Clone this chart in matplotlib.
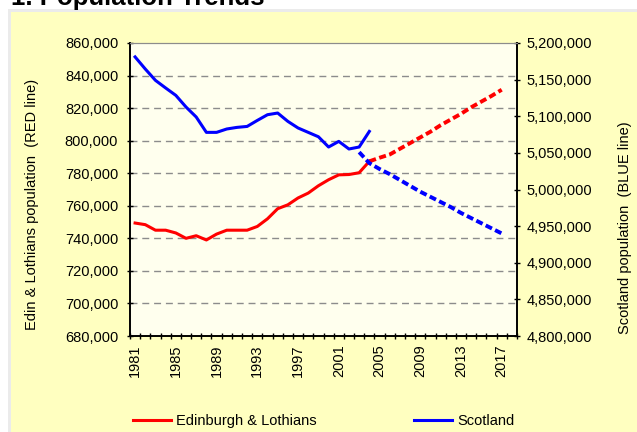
import numpy as np
import matplotlib
matplotlib.use("Agg")
import matplotlib.pyplot as plt
from matplotlib.patches import Rectangle
from matplotlib.ticker import FuncFormatter, FixedLocator

plt.rcParams['font.family'] = ['Liberation Sans', 'DejaVu Sans']

# category axis runs 1981..2018
years = list(range(1981, 2019))

# Edinburgh & Lothians, recorded (solid) and projected (dotted)
edin_years = list(range(1981, 2005))
edin_pop = [749400, 748400, 745000, 745000, 743300, 740000, 741600, 739000,
            742600, 745000, 745000, 745000, 747300, 752000, 758200, 760600,
            764800, 767800, 772300, 776000, 779000, 779200, 780300, 787300]
edin_proj_years = list(range(2004, 2018))
edin_proj = [787300, 789500, 791500, 795000, 798500, 802000, 805500, 809500,
             813000, 816500, 820500, 824000, 827500, 831300]

# Scotland, recorded (solid) and projected (dotted)
scot_years = list(range(1981, 2005))
scot_pop = [5181000, 5164500, 5149000, 5138600, 5128500, 5112600, 5099000,
            5078000, 5078000, 5082600, 5084800, 5086100, 5094300, 5102100,
            5104400, 5093000, 5084000, 5078000, 5072000, 5058000, 5065700,
            5055300, 5058000, 5079300]
scot_proj_years = list(range(2003, 2018))
scot_proj = [5051000, 5036000, 5028000, 5021000, 5013000, 5005000, 4997000,
             4990000, 4983000, 4976000, 4968000, 4961000, 4954000, 4947000,
             4940000]

left_ticks = list(range(680000, 860001, 20000))
right_ticks = list(range(4800000, 5200001, 50000))
label_years = list(range(1981, 2018, 4))

RED = '#FF0000'
BLUE = '#0000FF'


def idx(ys):
    return [y - years[0] for y in ys]


fig = plt.figure(figsize=(6.37, 4.32), dpi=100)
fig.patch.set_facecolor('white')
W, H = 637, 432
fig.patches.append(Rectangle((8 / W, 0), 1, (H - 9) / H, transform=fig.transFigure,
                             facecolor='#EBEBEB', edgecolor='none', zorder=-2))
fig.patches.append(Rectangle((11 / W, 0), 1, (H - 12) / H, transform=fig.transFigure,
                             facecolor='#FFFFC0', edgecolor='none', zorder=-1))

fig.text(11 / W, 1 - 5 / H, '1. Population Trends', fontsize=18.5, fontweight='bold',
         ha='left', va='baseline')

ax = fig.add_axes([130 / W, 1 - 336 / H, (517 - 130) / W, (336 - 43) / H])
ax.set_facecolor('#FFFFEE')
ax2 = ax.twinx()

dash = (1.8, 0.9)
ax.plot(idx(edin_years), edin_pop, color=RED, lw=2.2, solid_joinstyle='round',
        label='Edinburgh & Lothians', zorder=3)
ax.plot(idx(edin_proj_years), edin_proj, color=RED, lw=2.8, dashes=dash, zorder=3)
ax2.plot(idx(scot_years), scot_pop, color=BLUE, lw=2.2, solid_joinstyle='round',
         label='Scotland', zorder=3)
ax2.plot(idx(scot_proj_years), scot_proj, color=BLUE, lw=2.8, dashes=dash, zorder=3)

ax.set_xlim(-0.5, len(years) - 0.5)
ax.set_ylim(680000, 860000)
ax2.set_ylim(4800000, 5200000)

fmt = FuncFormatter(lambda v, p: f'{int(v):,}')
ax.yaxis.set_major_locator(FixedLocator(left_ticks))
ax.yaxis.set_major_formatter(fmt)
ax2.yaxis.set_major_locator(FixedLocator(right_ticks))
ax2.yaxis.set_major_formatter(fmt)

ax.set_xticks(idx(label_years))
ax.set_xticklabels([str(y) for y in label_years], rotation=90)
ax.set_xticks(np.arange(-0.5, len(years), 1.0), minor=True)
ax.tick_params(axis='x', which='major', length=0, pad=6, labelsize=10.5)
ax.tick_params(axis='x', which='minor', direction='inout', length=5, width=1)
ax.tick_params(axis='y', direction='inout', length=5, width=1, pad=6, labelsize=10.5)
ax2.tick_params(axis='y', direction='inout', length=5, width=1, pad=4.5, labelsize=10.5)

for y in left_ticks[1:-1]:
    ax.axhline(y, color='#8C8C8C', lw=1, dashes=(5, 3.5), zorder=1)

for a in (ax, ax2):
    a.spines['top'].set_color('#8C8C8C')
    a.spines['left'].set_linewidth(1.2)
    a.spines['right'].set_linewidth(1.2)
    a.spines['bottom'].set_linewidth(1.2)

fig.text(32.5 / W, 1 - 204 / H, 'Edin & Lothians population  (RED line)', rotation=90,
         ha='center', va='center', fontsize=10.5)
fig.text(625 / W, 1 - 227.5 / H, 'Scotland population  (BLUE line)', rotation=90,
         ha='center', va='center', fontsize=10.5)

handles = ax.get_lines()[:1] + ax2.get_lines()[:1]
fig.legend(handles, ['Edinburgh & Lothians', 'Scotland'], loc='center',
           bbox_to_anchor=(323.5 / W, 1 - 421 / H), ncol=2, frameon=False,
           fontsize=10.5, handlelength=2.6, handletextpad=0.35, columnspacing=6.7,
           borderpad=0, borderaxespad=0)

fig.savefig('out.png', dpi=100, facecolor=fig.get_facecolor())
